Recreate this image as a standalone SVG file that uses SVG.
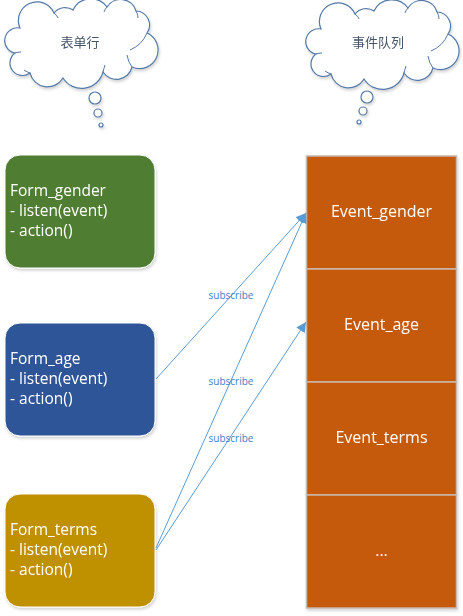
<svg xmlns="http://www.w3.org/2000/svg" width="463" height="616" viewBox="0 0 463 616">
<style>
.cloud{fill:#fff;stroke:#5479A8;stroke-width:1.2}
.inner{fill:none;stroke:#5479A8;stroke-width:1}
.ctext{font-family:"Noto Sans CJK SC","Noto Sans",sans-serif;font-size:13px;fill:#44546A;text-anchor:middle}
.form{stroke:#fff;stroke-width:1}
.ftext{font-family:"Open Sans","Noto Sans",sans-serif;font-size:15.5px;fill:#fff}
.cell{fill:#C55A11;stroke:#C9B8AC;stroke-width:1.5}
.etext{font-family:"Open Sans","Noto Sans",sans-serif;font-size:16px;fill:#fff;text-anchor:middle}
.conn{stroke:#5B9BD5;stroke-width:1;fill:none}
.lbl{font-family:"Open Sans","Noto Sans",sans-serif;font-size:10px;fill:#3E7FBF;text-anchor:middle}
</style>
<defs>
<marker id="arr" viewBox="0 0 10 10" refX="10" refY="5" markerWidth="10" markerHeight="10" markerUnits="userSpaceOnUse" orient="auto">
<path d="M0,0 L10,5 L0,10 z" fill="#5B9BD5"/>
</marker>
<filter id="sh" x="-10%" y="-10%" width="130%" height="130%">
<feDropShadow dx="1" dy="2" stdDeviation="1.5" flood-color="#000" flood-opacity="0.18"/>
</filter>
<path id="cloudShape" d="M20,28 A18,18 0 0 1 54,13 A14,14 0 0 1 73,10 A20,20 0 0 1 107,7 A16,16 0 0 1 136,11 A14,14 0 0 1 147,33 A18,18 0 0 1 132,67 A16,16 0 0 1 103,72 A22,22 0 0 1 63,78 A18,18 0 0 1 30,73 A12,12 0 0 1 15,53 A11,11 0 0 1 20,28 Z"/>
</defs>

<g id="cloud-form" filter="url(#sh)">
<use href="#cloudShape" class="cloud"/>
<path class="inner" d="M54,13 Q57,15 58,18 M107,7 Q105,9 104,12 M136,11 Q138,14 138,18 M147,33 Q142,45 130,50 M132,67 Q128,62 127,55 M103,72 Q104,68 105,65 M30,73 Q27,72 24,70 M15,53 Q18,52 21,52"/>
<text class="ctext" x="80" y="47">表单行</text>
<circle class="cloud" cx="95" cy="98" r="6"/>
<circle class="cloud" cx="98" cy="113" r="4"/>
<circle class="cloud" cx="101" cy="125" r="2"/>
</g>

<g id="cloud-queue" filter="url(#sh)">
<use href="#cloudShape" class="cloud" transform="translate(301,1)"/>
<path class="inner" transform="translate(301,1)" d="M54,13 Q57,15 58,18 M107,7 Q105,9 104,12 M136,11 Q138,14 138,18 M147,33 Q142,45 130,50 M132,67 Q128,62 127,55 M103,72 Q104,68 105,65 M30,73 Q27,72 24,70 M15,53 Q18,52 21,52"/>
<text class="ctext" x="378" y="47">事件队列</text>
<circle class="cloud" cx="367" cy="97" r="6"/>
<circle class="cloud" cx="363" cy="111" r="4"/>
<circle class="cloud" cx="359" cy="122" r="2"/>
</g>

<g id="form-gender" filter="url(#sh)">
<rect class="form" x="5" y="155" width="150" height="113" rx="15" fill="#507E32"/>
<text class="ftext" x="10" y="196">Form_gender</text>
<text class="ftext" x="10" y="216">- listen(event)</text>
<text class="ftext" x="10" y="236">- action()</text>
</g>

<g id="form-age" filter="url(#sh)">
<rect class="form" x="5" y="323" width="150" height="113" rx="15" fill="#2F5597"/>
<text class="ftext" x="10" y="364">Form_age</text>
<text class="ftext" x="10" y="384">- listen(event)</text>
<text class="ftext" x="10" y="404">- action()</text>
</g>

<g id="form-terms" filter="url(#sh)">
<rect class="form" x="5" y="494" width="150" height="113" rx="15" fill="#BF9000"/>
<text class="ftext" x="10" y="535">Form_terms</text>
<text class="ftext" x="10" y="555">- listen(event)</text>
<text class="ftext" x="10" y="575">- action()</text>
</g>

<g id="event-queue" filter="url(#sh)">
<g id="event-gender"><rect class="cell" x="306.5" y="156" width="150" height="113"/><text class="etext" x="381.5" y="217">Event_gender</text></g>
<g id="event-age"><rect class="cell" x="306.5" y="269" width="150" height="113"/><text class="etext" x="381.5" y="330">Event_age</text></g>
<g id="event-terms"><rect class="cell" x="306.5" y="382" width="150" height="113"/><text class="etext" x="381.5" y="443">Event_terms</text></g>
<g id="event-more"><rect class="cell" x="306.5" y="495" width="150" height="113"/><text class="etext" x="381.5" y="556">...</text></g>
</g>

<g id="connectors">
<line class="conn" x1="156" y1="379" x2="306" y2="213" marker-end="url(#arr)"/>
<line class="conn" x1="156" y1="548" x2="306" y2="213" marker-end="url(#arr)"/>
<line class="conn" x1="156" y1="550" x2="306" y2="322" marker-end="url(#arr)"/>
<text class="lbl" x="231" y="299">subscribe</text>
<text class="lbl" x="231" y="385">subscribe</text>
<text class="lbl" x="231" y="442">subscribe</text>
</g>
</svg>
